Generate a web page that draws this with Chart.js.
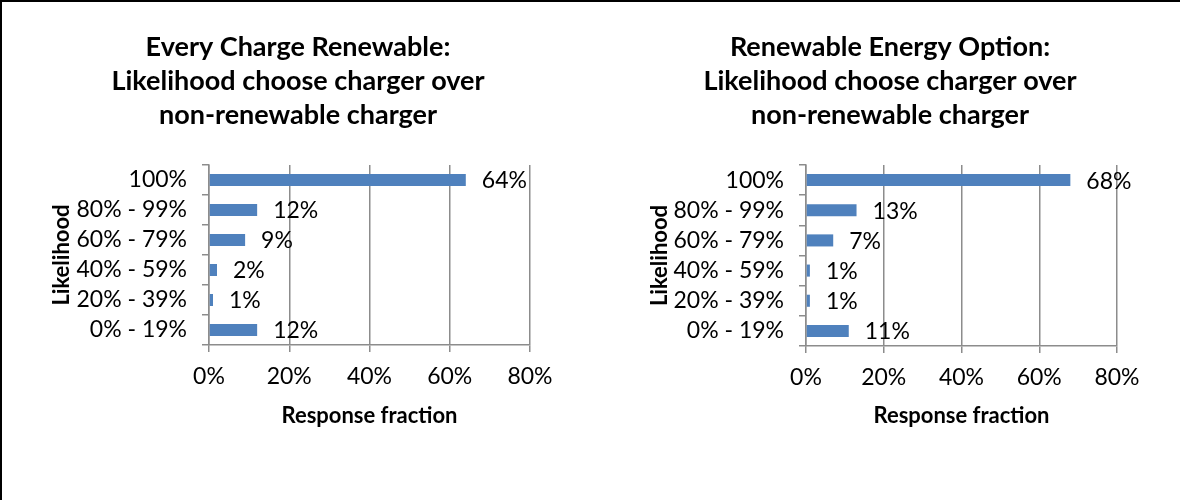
<!DOCTYPE html>
<html>
<head>
<meta charset="utf-8">
<script src="https://cdn.jsdelivr.net/npm/chart.js@4/dist/chart.umd.min.js"></script>
<style>
  html, body { margin: 0; padding: 0; background: #fff; }
  #page { position: relative; width: 1180px; height: 500px; overflow: hidden; background: #fff; }
  #page canvas { position: absolute; top: 0; }
  #frame { position: absolute; left: 0; top: 0; width: 1180px; height: 500px; box-sizing: border-box;
           border-top: 2px solid #000; border-left: 2px solid #000; pointer-events: none; }
</style>
</head>
<body>
<div id="page">
  <canvas id="left" width="590" height="500" style="left:0"></canvas>
  <canvas id="right" width="590" height="500" style="left:590px"></canvas>
  <div id="frame"></div>
</div>
<script>
// Likelihood bands, top to bottom
const likelihoodBands = ['100%', '80% - 99%', '60% - 79%', '40% - 59%', '20% - 39%', '0% - 19%'];

// Share of responses (%) per band
const everyChargeRenewable = [64, 12, 9, 2, 1, 12];
const renewableEnergyOption = [68, 13, 7, 1, 1, 11];

// Response-fraction axis ticks (%)
const fractionTicks = [0, 20, 40, 60, 80];

const leftTitle = ['Every Charge Renewable:', 'Likelihood choose charger over', 'non-renewable charger'];
const rightTitle = ['Renewable Energy Option:', 'Likelihood choose charger over', 'non-renewable charger'];

const FONT = "Lato, 'Open Sans', sans-serif";
const BAR = '#4F81BD';
const GRID = '#8c8c8c';

// Writes each bar's value just past its end
const valueLabels = {
  id: 'valueLabels',
  afterDatasetsDraw(chart) {
    const ctx = chart.ctx;
    ctx.save();
    ctx.font = '23px ' + FONT;
    ctx.fillStyle = '#000';
    ctx.textAlign = 'left';
    ctx.textBaseline = 'middle';
    chart.getDatasetMeta(0).data.forEach((bar, i) => {
      const v = chart.data.datasets[0].data[i];
      ctx.fillText(v + '%', bar.x + 16, bar.y + 1);
    });
    ctx.restore();
  }
};

function makeChart(id, title, values, geom) {
  return new Chart(document.getElementById(id), {
    type: 'bar',
    data: {
      labels: likelihoodBands,
      datasets: [{
        data: values,
        backgroundColor: BAR,
        borderWidth: 0,
        barPercentage: 0.4,
        categoryPercentage: 1.0
      }]
    },
    options: {
      indexAxis: 'y',
      responsive: false,
      animation: false,
      events: [],
      layout: { padding: { left: geom.padLeft, right: geom.padRight, top: 0, bottom: 0 } },
      plugins: {
        legend: { display: false },
        tooltip: { enabled: false },
        title: {
          display: true,
          text: title,
          color: '#000',
          font: { family: FONT, size: 27, weight: 'bold', lineHeight: '34px' },
          padding: { top: 30, bottom: 33 }
        }
      },
      scales: {
        x: {
          min: 0,
          max: 80,
          afterBuildTicks(scale) { scale.ticks = fractionTicks.map(v => ({ value: v })); },
          afterFit(scale) { scale.height = geom.xHeight; },
          ticks: {
            color: '#000',
            font: { family: FONT, size: 23 },
            padding: 11,
            autoSkip: false,
            maxRotation: 0,
            callback: v => v + '%'
          },
          grid: { color: GRID, lineWidth: 1.5, tickLength: 7, drawTicks: true },
          border: { color: GRID, width: 1.5 },
          title: {
            display: true,
            text: 'Response fraction',
            color: '#000',
            font: { family: FONT, size: 22, weight: 'bold', lineHeight: '26px' },
            padding: { top: 0, bottom: 71 }
          }
        },
        y: {
          afterFit(scale) { scale.width = geom.yWidth; },
          ticks: {
            color: '#000',
            font: { family: FONT, size: 23 },
            padding: 15,
            autoSkip: false
          },
          grid: { color: GRID, lineWidth: 1.5, tickLength: 7, drawOnChartArea: false, drawTicks: true, offset: true },
          border: { color: GRID, width: 1.5 },
          title: {
            display: true,
            text: 'Likelihood',
            color: '#000',
            font: { family: FONT, size: 22, weight: 'bold', lineHeight: '26px' },
            padding: { top: geom.yTitleOffset - 13, bottom: 0 }
          }
        }
      }
    },
    plugins: [valueLabels]
  });
}

makeChart('left', leftTitle, everyChargeRenewable, { padLeft: 66, yWidth: 143, padRight: 60, xHeight: 155, yTitleOffset: -4 });
makeChart('right', rightTitle, renewableEnergyOption, { padLeft: 73, yWidth: 143, padRight: 63, xHeight: 154, yTitleOffset: -3 });
</script>
</body>
</html>
